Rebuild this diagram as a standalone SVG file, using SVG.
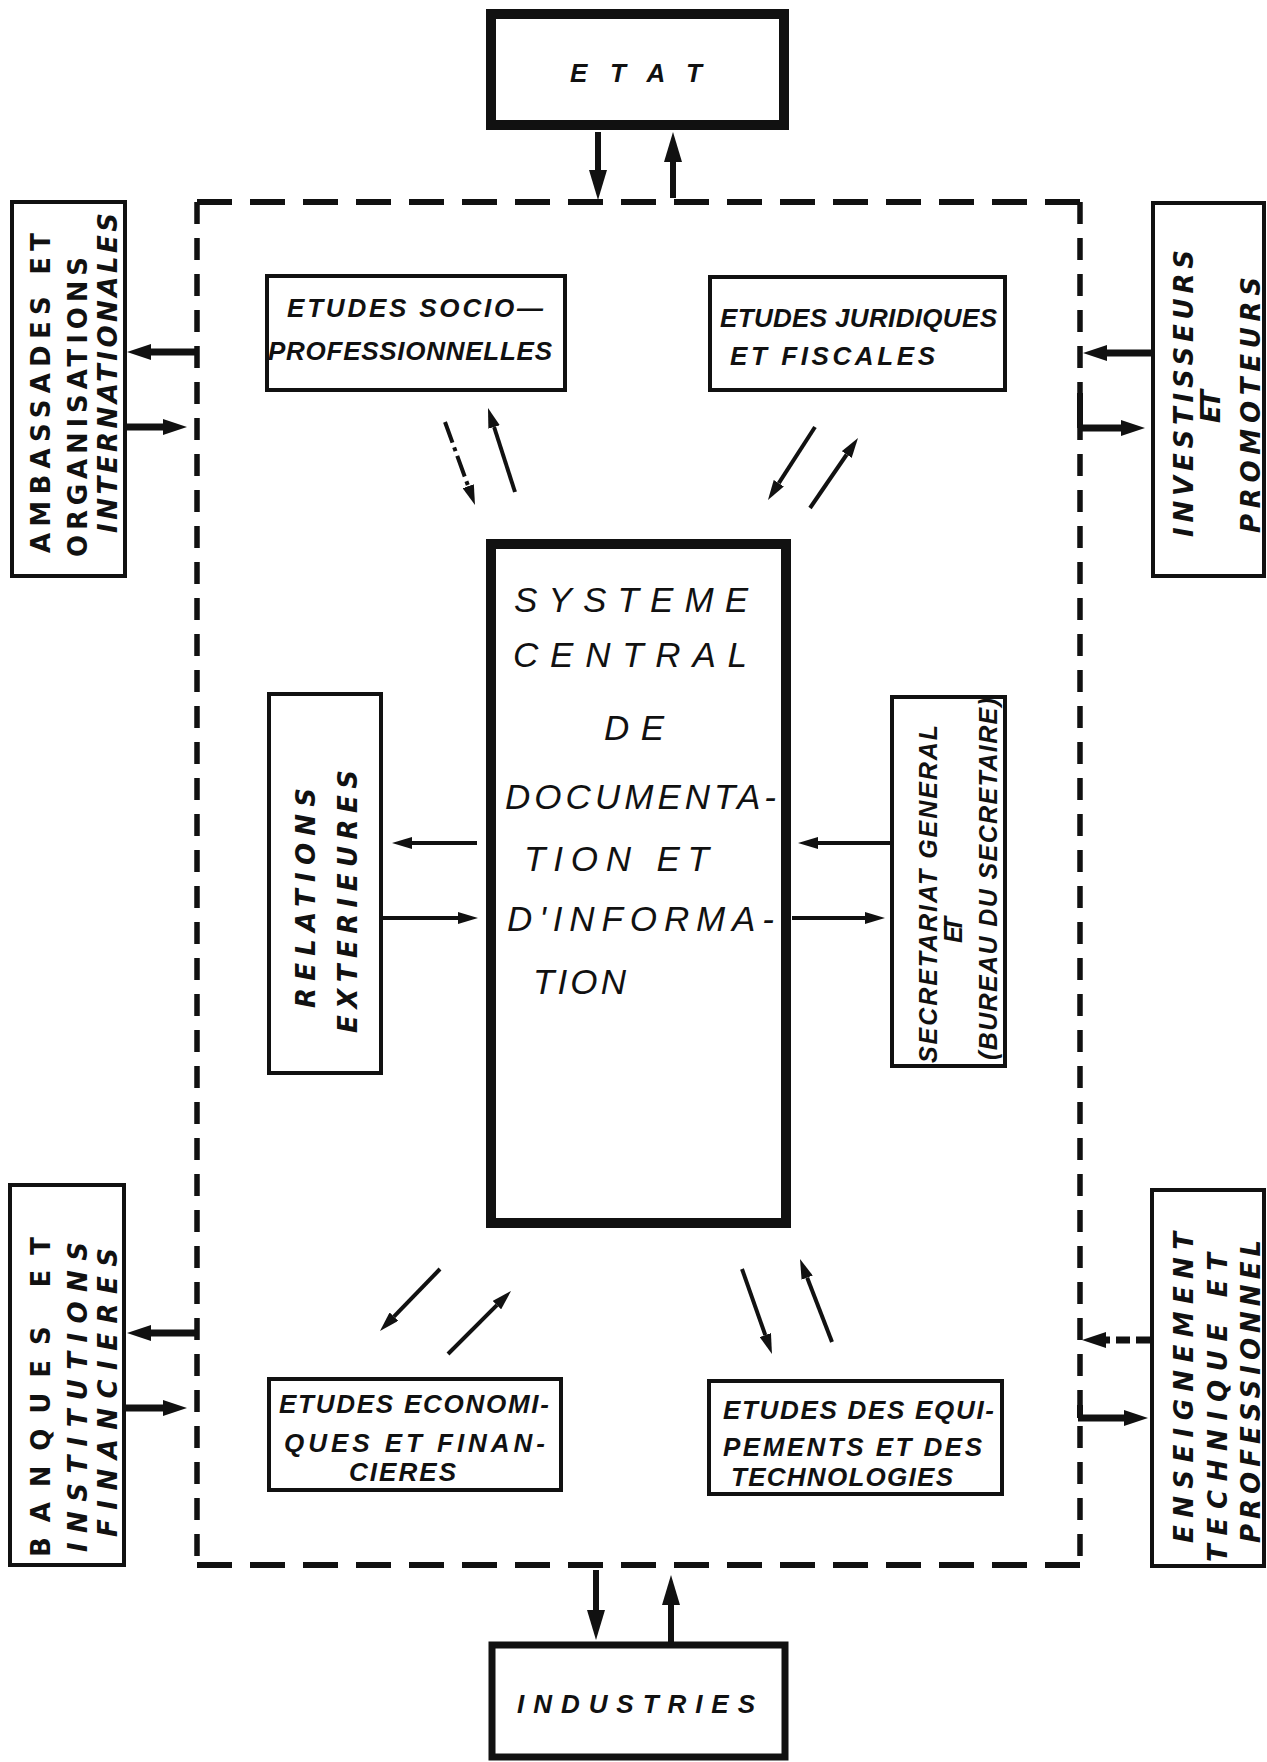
<svg xmlns="http://www.w3.org/2000/svg" width="1267" height="1762" viewBox="0 0 1267 1762">
<style>
.bg{fill:#fff}
.box{fill:none;stroke:#111;stroke-width:4}
.thick{fill:none;stroke:#111;stroke-width:10}
.t{font-family:"Liberation Sans",Arial,sans-serif;font-weight:bold;font-style:italic;font-size:26px;fill:#111}
.tv{font-family:"DejaVu Sans","Liberation Sans",sans-serif;font-weight:bold;font-size:26px;fill:#111}
.tvi{font-family:"DejaVu Sans","Liberation Sans",sans-serif;font-weight:bold;font-style:italic;font-size:26px;fill:#111}
.tsi{font-family:"Liberation Sans",Arial,sans-serif;font-weight:bold;font-style:italic;font-size:25px;fill:#111}
.tc{font-family:"Liberation Sans",Arial,sans-serif;font-style:italic;font-size:35px;fill:#111}
.dh{fill:none;stroke:#111;stroke-width:6;stroke-dasharray:35 18}
.dv{fill:none;stroke:#111;stroke-width:5.5;stroke-dasharray:22 14}
.a7{stroke:#111;stroke-width:7;fill:none;marker-end:url(#ah)}
.a6{stroke:#111;stroke-width:6;fill:none;marker-end:url(#am)}
.a4{stroke:#111;stroke-width:4;fill:none;marker-end:url(#as)}
</style>
<defs>
<marker id="ah" markerUnits="userSpaceOnUse" viewBox="0 -8 24 16" refX="0" refY="0" markerWidth="24" markerHeight="16" orient="auto"><path d="M0,-8 L24,0 L0,8 z" fill="#111"/></marker>
<marker id="am" markerUnits="userSpaceOnUse" viewBox="0 -9 30 18" refX="0" refY="0" markerWidth="30" markerHeight="18" orient="auto"><path d="M0,-9 L30,0 L0,9 z" fill="#111"/></marker>
<marker id="as" markerUnits="userSpaceOnUse" viewBox="0 -6 20 12" refX="0" refY="0" markerWidth="20" markerHeight="12" orient="auto"><path d="M0,-6 L20,0 L0,6 z" fill="#111"/></marker>
</defs>
<rect class="bg" x="0" y="0" width="1267" height="1762"/>

<g id="boundary">
<line class="dh" x1="197" y1="202" x2="1080" y2="202"/>
<line class="dh" x1="197" y1="1565" x2="1080" y2="1565"/>
<line class="dv" x1="197" y1="202" x2="197" y2="1565"/>
<line class="dv" x1="1080" y1="202" x2="1080" y2="1565"/>
</g>

<g id="etat">
<rect class="thick" x="491" y="14" width="293" height="111"/>
<text class="t" x="570" y="82" font-size="27" textLength="132" lengthAdjust="spacing">ETAT</text>
</g>

<g id="industries">
<rect x="492" y="1645" width="293" height="112" fill="none" stroke="#111" stroke-width="7"/>
<text class="t" x="517" y="1713" textLength="238" lengthAdjust="spacing">INDUSTRIES</text>
</g>

<g id="systeme-central">
<rect class="thick" x="491" y="544" width="295" height="679"/>
<text class="tc" x="514" y="612" textLength="234" lengthAdjust="spacing">SYSTEME</text>
<text class="tc" x="513" y="667" textLength="234" lengthAdjust="spacing">CENTRAL</text>
<text class="tc" x="604" y="740" textLength="60" lengthAdjust="spacing">DE</text>
<text class="tc" x="505" y="809" textLength="271" lengthAdjust="spacing">DOCUMENTA-</text>
<text class="tc" x="524" y="871" textLength="185" lengthAdjust="spacing">TION ET</text>
<text class="tc" x="507" y="931" textLength="267" lengthAdjust="spacing">D'INFORMA-</text>
<text class="tc" x="533" y="994" textLength="93" lengthAdjust="spacing">TION</text>
</g>

<g id="ambassades">
<rect class="box" x="12" y="202" width="113" height="374"/>
<text class="tv" x="50" y="553" transform="rotate(-90 50 553)" textLength="320" lengthAdjust="spacing">AMBASSADES ET</text>
<text class="tv" x="87" y="557" transform="rotate(-90 87 557)" textLength="300" lengthAdjust="spacing">ORGANISATIONS</text>
<text class="tvi" x="117" y="533" transform="rotate(-90 117 533)" textLength="320" lengthAdjust="spacing">INTERNATIONALES</text>
</g>

<g id="investisseurs">
<rect class="box" x="1153" y="203" width="111" height="373"/>
<text class="tvi" x="1193" y="537" transform="rotate(-90 1193 537)" textLength="287" lengthAdjust="spacing">INVESTISSEURS</text>
<text class="tvi" x="1220" y="423" transform="rotate(-90 1220 423)" textLength="33" lengthAdjust="spacing">ET</text>
<text class="tvi" x="1260" y="533" transform="rotate(-90 1260 533)" textLength="256" lengthAdjust="spacing">PROMOTEURS</text>
</g>

<g id="banques">
<rect class="box" x="10" y="1185" width="114" height="380"/>
<text class="tv" x="50" y="1557" transform="rotate(-90 50 1557)" textLength="320" lengthAdjust="spacing">BANQUES ET</text>
<text class="tvi" x="87" y="1552" transform="rotate(-90 87 1552)" textLength="310" lengthAdjust="spacing">INSTITUTIONS</text>
<text class="tvi" x="117" y="1537" transform="rotate(-90 117 1537)" textLength="289" lengthAdjust="spacing">FINANCIERES</text>
</g>

<g id="enseignement">
<rect class="box" x="1152" y="1190" width="112" height="376"/>
<text class="tvi" x="1193" y="1543" transform="rotate(-90 1193 1543)" textLength="311" lengthAdjust="spacing">ENSEIGNEMENT</text>
<text class="tvi" x="1227" y="1562" transform="rotate(-90 1227 1562)" textLength="309" lengthAdjust="spacing">TECHNIQUE ET</text>
<text class="tvi" x="1260" y="1543" transform="rotate(-90 1260 1543)" textLength="303" lengthAdjust="spacing">PROFESSIONNEL</text>
</g>

<g id="etudes-socio">
<rect class="box" x="267" y="276" width="298" height="114"/>
<text class="t" x="287" y="317" textLength="256" lengthAdjust="spacing">ETUDES SOCIO—</text>
<text class="t" x="268" y="360" textLength="284" lengthAdjust="spacing">PROFESSIONNELLES</text>
</g>

<g id="etudes-juridiques">
<rect class="box" x="710" y="277" width="295" height="113"/>
<text class="t" x="720" y="327" textLength="277" lengthAdjust="spacing">ETUDES JURIDIQUES</text>
<text class="t" x="730" y="365" textLength="205" lengthAdjust="spacing">ET FISCALES</text>
</g>

<g id="relations">
<rect class="box" x="269" y="694" width="112" height="379"/>
<text class="tvi" x="315" y="1008" transform="rotate(-90 315 1008)" textLength="220" lengthAdjust="spacing">RELATIONS</text>
<text class="tvi" x="357" y="1033" transform="rotate(-90 357 1033)" textLength="263" lengthAdjust="spacing">EXTERIEURES</text>
</g>

<g id="secretariat">
<rect class="box" x="892" y="697" width="113" height="369"/>
<text class="tsi" x="937" y="1063" transform="rotate(-90 937 1063)" textLength="338" lengthAdjust="spacing">SECRETARIAT GENERAL</text>
<text class="tsi" x="962" y="943" font-size="17" transform="rotate(-90 962 943)" textLength="26" lengthAdjust="spacing">ET</text>
<text class="tsi" x="997" y="1060" font-size="24" transform="rotate(-90 997 1060)" textLength="362" lengthAdjust="spacing">(BUREAU DU SECRETAIRE)</text>
</g>

<g id="etudes-economiques">
<rect class="box" x="269" y="1379" width="292" height="111"/>
<text class="t" x="279" y="1413" textLength="270" lengthAdjust="spacing">ETUDES ECONOMI-</text>
<text class="t" x="284" y="1452" textLength="261" lengthAdjust="spacing">QUES ET FINAN-</text>
<text class="t" x="349" y="1481" textLength="107" lengthAdjust="spacing">CIERES</text>
</g>

<g id="etudes-equipements">
<rect class="box" x="709" y="1381" width="293" height="113"/>
<text class="t" x="723" y="1419" textLength="271" lengthAdjust="spacing">ETUDES DES EQUI-</text>
<text class="t" x="723" y="1456" textLength="259" lengthAdjust="spacing">PEMENTS ET DES</text>
<text class="t" x="731" y="1486" textLength="222" lengthAdjust="spacing">TECHNOLOGIES</text>
</g>

<g id="connectors">
<line class="a6" x1="598" y1="132" x2="598" y2="170"/>
<line class="a6" x1="673" y1="198" x2="673" y2="162"/>
<line class="a6" x1="596" y1="1570" x2="596" y2="1610"/>
<line class="a6" x1="671" y1="1642" x2="671" y2="1605"/>

<line class="a7" x1="197" y1="352" x2="151" y2="352"/>
<line class="a7" x1="125" y1="427" x2="163" y2="427"/>
<line class="a7" x1="1153" y1="353" x2="1107" y2="353"/>
<path d="M1080,393 L1080,428" stroke="#111" stroke-width="6" fill="none"/>
<line class="a7" x1="1078" y1="428" x2="1121" y2="428"/>
<line class="a7" x1="197" y1="1333" x2="151" y2="1333"/>
<line class="a7" x1="124" y1="1408" x2="163" y2="1408"/>
<line class="a7" x1="1150" y1="1340" x2="1106" y2="1340" stroke-dasharray="14 6"/>
<path d="M1080,1405 L1080,1418" stroke="#111" stroke-width="6" fill="none"/>
<line class="a7" x1="1078" y1="1418" x2="1124" y2="1418"/>

<line class="a4" x1="477" y1="843" x2="412" y2="843"/>
<line class="a4" x1="383" y1="918" x2="458" y2="918"/>
<line class="a4" x1="890" y1="843" x2="818" y2="843"/>
<line class="a4" x1="792" y1="918" x2="865" y2="918"/>

<line class="a4" x1="445" y1="422" x2="468.2" y2="486.2" stroke-dasharray="22 5 4 5"/>
<line class="a4" x1="515" y1="492" x2="494.1" y2="427"/>
<line class="a4" x1="815" y1="427" x2="778.8" y2="483.2"/>
<line class="a4" x1="810" y1="508" x2="846.7" y2="454.5"/>
<line class="a4" x1="440" y1="1269" x2="393.9" y2="1316.6"/>
<line class="a4" x1="448" y1="1354" x2="496.9" y2="1305.1"/>
<line class="a4" x1="742" y1="1269" x2="765.3" y2="1335.1"/>
<line class="a4" x1="832" y1="1342" x2="807.2" y2="1277.7"/>
</g>
</svg>
